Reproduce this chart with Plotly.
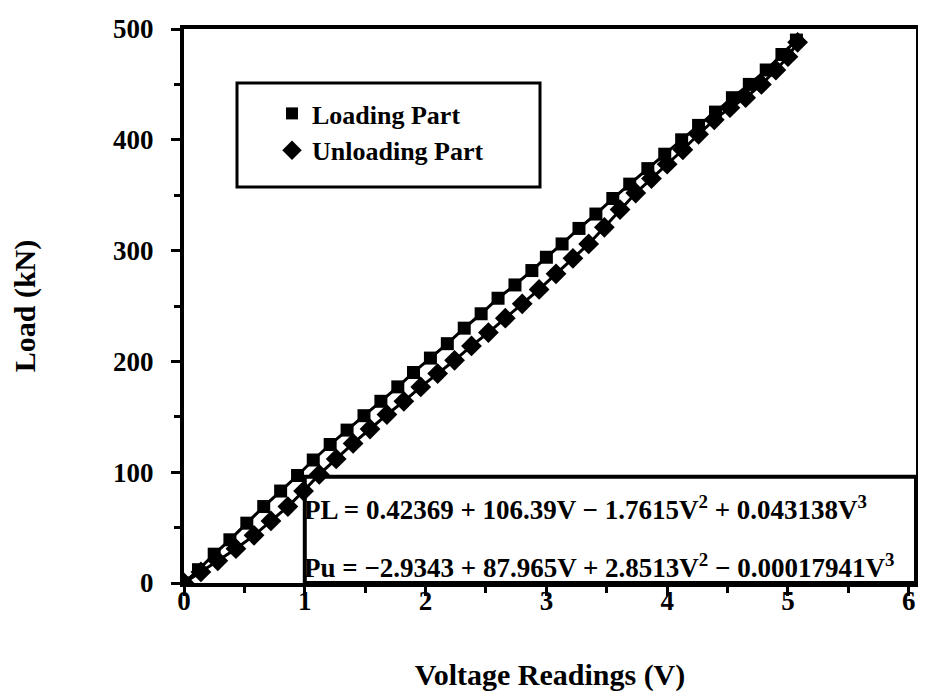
import plotly.graph_objects as go

# Loading part (voltage V, load kN)
load_v = [0.00, 0.12, 0.25, 0.38, 0.52, 0.66, 0.80, 0.94, 1.07, 1.21, 1.35, 1.49, 1.63, 1.77,
          1.90, 2.04, 2.18, 2.32, 2.46, 2.60, 2.74, 2.88, 3.00, 3.13, 3.27, 3.41, 3.55, 3.69,
          3.84, 3.98, 4.12, 4.26, 4.40, 4.54, 4.68, 4.82, 4.95, 5.07]
load_p = [0, 12, 26, 39, 54, 69, 83, 97, 111, 125, 138, 151, 164, 177,
          190, 203, 216, 230, 243, 257, 269, 282, 294, 306, 320, 333, 347, 360,
          374, 387, 400, 413, 425, 438, 450, 463, 477, 490]

# Unloading part
unload_v = [0.00, 0.14, 0.28, 0.43, 0.58, 0.72, 0.86, 0.99, 1.12, 1.26, 1.40, 1.54, 1.68, 1.82,
            1.96, 2.10, 2.24, 2.38, 2.52, 2.66, 2.80, 2.94, 3.08, 3.22, 3.35, 3.48, 3.61, 3.74,
            3.87, 4.00, 4.13, 4.26, 4.39, 4.52, 4.65, 4.78, 4.90, 5.00, 5.08]
unload_p = [0, 10, 20, 31, 43, 56, 69, 83, 98, 112, 126, 139, 152, 164,
            177, 189, 201, 214, 226, 239, 252, 265, 279, 293, 306, 321, 337, 352,
            365, 378, 391, 405, 418, 429, 438, 450, 463, 475, 488]

x_ticks = [0, 1, 2, 3, 4, 5, 6]
y_ticks = [0, 100, 200, 300, 400, 500]

eq_loading = "PL = 0.42369 + 106.39V \u2212 1.7615V<sup>2</sup> + 0.043138V<sup>3</sup>"
eq_unloading = "Pu = \u22122.9343 + 87.965V + 2.8513V<sup>2</sup> \u2212 0.00017941V<sup>3</sup>"

FONT = "Liberation Serif"
OFF = 8  # page body margin
W, H = 926 - OFF, 698 - OFF
L, T = 184 - OFF, 29 - OFF
R = W - (916 - OFF)
B = H - (583 - OFF)
PW, PH = W - L - R, H - T - B


def sx(p):  # screen px -> paper x
    return (p - OFF - L) / PW


def sy(p):  # screen px -> paper y
    return 1 - (p - OFF - T) / PH


fig = go.Figure()
fig.add_trace(go.Scatter(x=load_v, y=load_p, mode="lines+markers", showlegend=False,
                         line=dict(color="black", width=3),
                         marker=dict(symbol="square", size=13, color="black")))
fig.add_trace(go.Scatter(x=unload_v, y=unload_p, mode="lines+markers", showlegend=False,
                         line=dict(color="black", width=3),
                         marker=dict(symbol="diamond", size=16, color="black")))
# legend entries
fig.add_trace(go.Scatter(x=[None], y=[None], mode="markers", name="<b>Loading Part</b>",
                         legendgroup="a", marker=dict(symbol="square", size=12, color="black")))
fig.add_trace(go.Scatter(x=[None], y=[None], mode="markers", name="<b>Unloading Part</b>",
                         legendgroup="b", marker=dict(symbol="diamond", size=15, color="black")))

# equation box
fig.add_shape(type="rect", xref="x", yref="y", x0=1.0, x1=6.06, y0=0, y1=96,
              line=dict(color="black", width=4), fillcolor="white", layer="below")
fig.add_annotation(x=0.98, y=68, xref="x", yref="y", xanchor="left", showarrow=False,
                   text="<b>" + eq_loading + "</b>", font=dict(family=FONT, size=27, color="black"))
fig.add_annotation(x=0.98, y=15, xref="x", yref="y", xanchor="left", showarrow=False,
                   text="<b>" + eq_unloading + "</b>", font=dict(family=FONT, size=27, color="black"))

# legend box
fig.add_shape(type="rect", xref="paper", yref="paper",
              x0=sx(237), x1=sx(540), y0=sy(187), y1=sy(83),
              line=dict(color="black", width=3), fillcolor="rgba(0,0,0,0)")

fig.update_layout(
    width=W, height=H,
    margin=dict(l=L, r=R, t=T, b=B),
    paper_bgcolor="white", plot_bgcolor="white",
    font=dict(family=FONT, color="black"),
    legend=dict(x=sx(272), y=sy(90), xanchor="left", yanchor="top",
                bgcolor="rgba(0,0,0,0)", borderwidth=0,
                font=dict(family=FONT, size=26, color="black"), tracegroupgap=0),
)
fig.update_xaxes(range=[0, 6.06], tickvals=x_ticks, ticktext=[f"<b>{v}</b>" for v in x_ticks],
                 automargin=False,
                 showgrid=False, zeroline=False, showline=True, linecolor="black", linewidth=4,
                 mirror=True, ticks="outside", ticklen=9, tickwidth=3, tickcolor="black",
                 ticklabelstandoff=-18,
                 tickfont=dict(family=FONT, size=27, color="black"),
                 minor=dict(dtick=0.5, ticks="outside", ticklen=6, tickwidth=3, tickcolor="black"),
                 title=dict(text="<b>Voltage Readings (V)</b>", standoff=50,
                            font=dict(family=FONT, size=30, color="black")))
fig.update_yaxes(range=[0, 500], tickvals=y_ticks, ticktext=[f"<b>{v}</b>" for v in y_ticks],
                 automargin=False,
                 showgrid=False, zeroline=False, showline=True, linecolor="black", linewidth=4,
                 mirror=True, ticks="outside", ticklen=9, tickwidth=3, tickcolor="black",
                 ticklabelstandoff=12,
                 tickfont=dict(family=FONT, size=27, color="black"),
                 minor=dict(dtick=50, ticks="outside", ticklen=6, tickwidth=3, tickcolor="black"),
                 title=dict(text="<b>Load (kN)</b>", standoff=75,
                            font=dict(family=FONT, size=30, color="black")))

fig.write_html("out.html")
